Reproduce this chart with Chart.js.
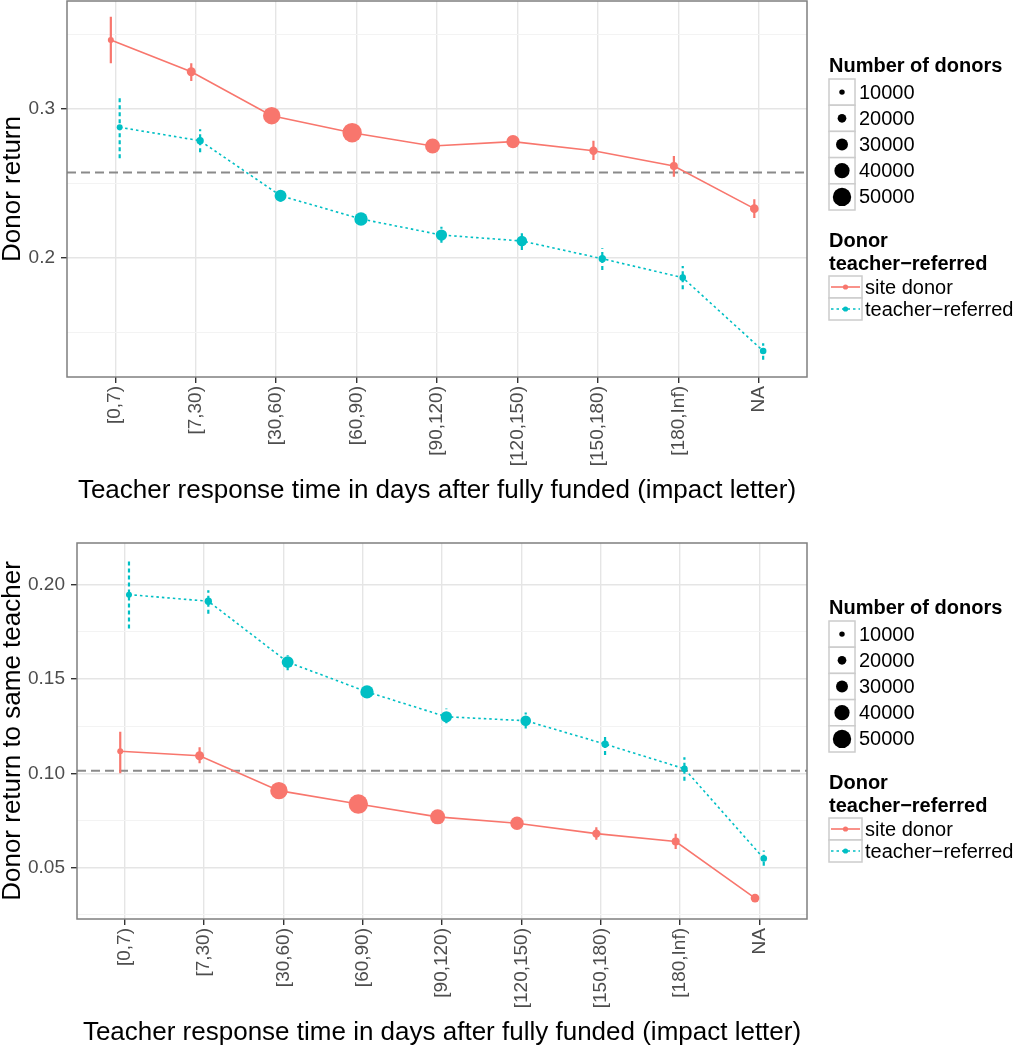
<!DOCTYPE html>
<html>
<head>
<meta charset="utf-8">
<title>Donor return by teacher response time</title>
<script src="https://cdn.jsdelivr.net/npm/chart.js@4.4.1/dist/chart.umd.min.js"></script>
<style>
  html, body { margin: 0; padding: 0; background: #fff; }
  body { width: 1019px; height: 1050px; position: relative; overflow: hidden; }
  .panel { position: absolute; left: 0; }
  .panel canvas { display: block; }
  #topPanel { top: 0; }
  #bottomPanel { top: 530px; }
</style>
</head>
<body>
<div class="panel" id="topPanel"><canvas id="returnChart" width="1019" height="508"></canvas></div>
<div class="panel" id="bottomPanel"><canvas id="sameChart" width="1019" height="520"></canvas></div>
<script>
// categories on the x axis
const categories = ['[0,7)', '[7,30)', '[30,60)', '[60,90)', '[90,120)', '[120,150)', '[150,180)', '[180,Inf)', 'NA'];
const seriesNames = ['site donor', 'teacher\u2212referred'];

// number of donors per group (point size)
const siteDonors = [11700, 21000, 47000, 53000, 39500, 34500, 19000, 18000, 20000];
const teacherDonors = [11700, 16000, 30000, 34500, 28000, 26000, 16000, 13600, 13600];
const sizeBreaks = [10000, 20000, 30000, 40000, 50000];

// panel 1: donor return
const returnSite = [0.3463, 0.3250, 0.2955, 0.2841, 0.2752, 0.2781, 0.2720, 0.2617, 0.2331];
const returnSiteLo = [0.3307, 0.3188, 0.2920, 0.2805, 0.2720, 0.2750, 0.2658, 0.2546, 0.2268];
const returnSiteHi = [0.3620, 0.3307, 0.2990, 0.2877, 0.2785, 0.2812, 0.2787, 0.2685, 0.2394];
const returnTeacher = [0.2877, 0.2787, 0.2418, 0.2262, 0.2154, 0.2114, 0.1995, 0.1868, 0.1376];
const returnTeacherLo = [0.2669, 0.2709, 0.2378, 0.2228, 0.2103, 0.2054, 0.1919, 0.1790, 0.1316];
const returnTeacherHi = [0.3083, 0.2864, 0.2456, 0.2296, 0.2210, 0.2166, 0.2065, 0.1946, 0.1428];
const returnOverall = 0.2573;
const returnTicks = [0.2, 0.3];
const returnTickLabels = ['0.2', '0.3'];
const returnMinor = [0.15, 0.25, 0.35];

// panel 2: donor return to same teacher
const sameSite = [0.1117, 0.1093, 0.0908, 0.0837, 0.0769, 0.0735, 0.0680, 0.0638, 0.0338];
const sameSiteLo = [0.1000, 0.1053, 0.0885, 0.0812, 0.0748, 0.0712, 0.0647, 0.0598, 0.0322];
const sameSiteHi = [0.1220, 0.1138, 0.0931, 0.0862, 0.0790, 0.0758, 0.0714, 0.0679, 0.0354];
const sameTeacher = [0.1948, 0.1913, 0.1590, 0.1432, 0.1300, 0.1279, 0.1155, 0.1024, 0.0548];
const sameTeacherLo = [0.1768, 0.1847, 0.1547, 0.1405, 0.1265, 0.1238, 0.1097, 0.0961, 0.0509];
const sameTeacherHi = [0.2126, 0.1971, 0.1627, 0.1459, 0.1344, 0.1323, 0.1208, 0.1085, 0.0590];
const sameOverall = 0.1014;
const sameTicks = [0.05, 0.10, 0.15, 0.20];
const sameTickLabels = ['0.05', '0.10', '0.15', '0.20'];
const sameMinor = [0.025, 0.075, 0.125, 0.175];

const FONT = '"Liberation Sans", Arial, Helvetica, sans-serif';
const SITE_COLOR = '#F8766D';
const TEACHER_COLOR = '#00BFC4';
const DODGE = 0.055;
const X_MIN = -0.6;
const X_MAX = 8.6;

function radiusFor(n) {
    return 1.1 + n * 0.000162;
}

function pointsOf(values, offset) {
    return values.map((v, i) => ({ x: i + offset, y: v }));
}

// vertical segments separated by gaps
function errorBarsOf(lo, hi, offset) {
    const pts = [];
    lo.forEach((v, i) => {
        pts.push({ x: i + offset, y: v });
        pts.push({ x: i + offset, y: hi[i] });
        pts.push({ x: i + offset, y: null });
    });
    return pts;
}

const isMinor = c => c.tick && c.tick.minor;

// panel border on top of the data
const borderPlugin = {
    id: 'panelBorder',
    afterDatasetsDraw(chart) {
        const a = chart.chartArea;
        const ctx = chart.ctx;
        ctx.save();
        ctx.strokeStyle = '#7f7f7f';
        ctx.lineWidth = 1.5;
        ctx.strokeRect(a.left, a.top, a.right - a.left, a.bottom - a.top);
        ctx.restore();
    }
};

// ggplot style legend to the right of the panel
const legendPlugin = {
    id: 'ggLegend',
    afterDraw(chart) {
        const ctx = chart.ctx;
        const a = chart.chartArea;
        const cy = (a.top + a.bottom) / 2;
        const x0 = 829;

        ctx.save();
        ctx.textAlign = 'left';
        ctx.textBaseline = 'middle';
        ctx.fillStyle = '#000';
        ctx.font = 'bold 20px ' + FONT;
        ctx.fillText('Number of donors', x0, cy - 123);

        const rowH = 26.2;
        sizeBreaks.forEach((n, i) => {
            const top = cy - 110 + i * rowH;
            ctx.fillStyle = '#fff';
            ctx.fillRect(x0, top, 26, rowH);
            ctx.strokeStyle = '#cccccc';
            ctx.lineWidth = 1.5;
            ctx.strokeRect(x0, top, 26, rowH);
            ctx.beginPath();
            ctx.arc(x0 + 13, top + rowH / 2, radiusFor(n), 0, Math.PI * 2);
            ctx.fillStyle = '#000';
            ctx.fill();
            ctx.font = '20px ' + FONT;
            ctx.fillText(String(n), x0 + 30, top + rowH / 2 + 1);
        });

        ctx.font = 'bold 20px ' + FONT;
        ctx.fillStyle = '#000';
        ctx.fillText('Donor', x0, cy + 52);
        ctx.fillText('teacher\u2212referred', x0, cy + 75);

        const lineH = 22;
        const colors = [SITE_COLOR, TEACHER_COLOR];
        const dashes = [[], [2.5, 3]];
        seriesNames.forEach((name, i) => {
            const top = cy + 87 + i * lineH;
            const mid = top + lineH / 2;
            ctx.fillStyle = '#fff';
            ctx.fillRect(x0, top, 33, lineH);
            ctx.strokeStyle = '#cccccc';
            ctx.lineWidth = 1.5;
            ctx.setLineDash([]);
            ctx.strokeRect(x0, top, 33, lineH);

            ctx.strokeStyle = colors[i];
            ctx.lineWidth = 1.6;
            ctx.setLineDash(dashes[i]);
            ctx.beginPath();
            ctx.moveTo(x0 + 2, mid);
            ctx.lineTo(x0 + 31, mid);
            ctx.stroke();
            ctx.setLineDash([]);
            ctx.beginPath();
            ctx.arc(x0 + 16.5, mid, 2.6, 0, Math.PI * 2);
            ctx.fillStyle = colors[i];
            ctx.fill();

            ctx.fillStyle = '#000';
            ctx.font = '20px ' + FONT;
            ctx.fillText(name, x0 + 36, mid + 1);
        });
        ctx.restore();
    }
};

function makeChart(canvasId, p) {
    const ctx = document.getElementById(canvasId).getContext('2d');
    return new Chart(ctx, {
        type: 'line',
        data: {
            datasets: [
                {
                    label: seriesNames[0],
                    data: pointsOf(p.site, -DODGE),
                    borderColor: SITE_COLOR,
                    backgroundColor: SITE_COLOR,
                    borderWidth: 1.6,
                    pointRadius: siteDonors.map(radiusFor),
                    pointBackgroundColor: SITE_COLOR,
                    pointBorderWidth: 0,
                    order: 0
                },
                {
                    label: seriesNames[1],
                    data: pointsOf(p.teacher, DODGE),
                    borderColor: TEACHER_COLOR,
                    backgroundColor: TEACHER_COLOR,
                    borderWidth: 1.6,
                    borderDash: [2.5, 3],
                    pointRadius: teacherDonors.map(radiusFor),
                    pointBackgroundColor: TEACHER_COLOR,
                    pointBorderWidth: 0,
                    order: 0
                },
                {
                    label: 'site error',
                    data: errorBarsOf(p.siteLo, p.siteHi, -DODGE),
                    borderColor: SITE_COLOR,
                    borderWidth: 2.2,
                    borderCapStyle: 'butt',
                    pointRadius: 0,
                    spanGaps: false,
                    order: 1
                },
                {
                    label: 'teacher error',
                    data: errorBarsOf(p.teacherLo, p.teacherHi, DODGE),
                    borderColor: TEACHER_COLOR,
                    borderWidth: 2.2,
                    borderDash: [4, 3],
                    borderCapStyle: 'butt',
                    pointRadius: 0,
                    spanGaps: false,
                    order: 1
                },
                {
                    label: 'overall',
                    data: [{ x: X_MIN, y: p.overall }, { x: X_MAX, y: p.overall }],
                    borderColor: '#8a8a8a',
                    borderWidth: 2,
                    borderDash: [9, 5],
                    pointRadius: 0,
                    order: 2
                }
            ]
        },
        options: {
            responsive: false,
            animation: false,
            events: [],
            devicePixelRatio: 1,
            layout: {
                autoPadding: false,
                padding: { top: p.padTop, right: 212, left: 0, bottom: 0 }
            },
            plugins: {
                legend: { display: false },
                tooltip: { enabled: false }
            },
            scales: {
                x: {
                    type: 'linear',
                    min: X_MIN,
                    max: X_MAX,
                    border: { display: false },
                    grid: { color: '#e5e5e5', lineWidth: 1.4, tickColor: '#333', tickLength: 6, tickWidth: 1.4 },
                    ticks: {
                        autoSkip: false,
                        minRotation: 90,
                        maxRotation: 90,
                        padding: 3,
                        color: '#4d4d4d',
                        font: { family: FONT, size: 19 },
                        callback: v => categories[v] !== undefined ? categories[v] : ''
                    },
                    afterBuildTicks: scale => {
                        scale.ticks = categories.map((c, i) => ({ value: i }));
                    },
                    afterFit: scale => {
                        scale.height = 131;
                        scale.paddingLeft = 0;
                        scale.paddingRight = 0;
                    },
                    title: {
                        display: true,
                        text: 'Teacher response time in days after fully funded (impact letter)',
                        color: '#000',
                        font: { family: FONT, size: 26, lineHeight: 1 },
                        padding: { top: 0, bottom: 4 }
                    }
                },
                y: {
                    type: 'linear',
                    min: p.yMin,
                    max: p.yMax,
                    border: { display: false },
                    grid: {
                        color: c => isMinor(c) ? '#f3f3f3' : '#e5e5e5',
                        lineWidth: c => isMinor(c) ? 1 : 1.4,
                        tickColor: c => isMinor(c) ? 'rgba(0,0,0,0)' : '#333',
                        tickLength: 6,
                        tickWidth: 1.4
                    },
                    ticks: {
                        autoSkip: false,
                        padding: 6,
                        color: '#4d4d4d',
                        font: { family: FONT, size: 19 },
                        callback: v => {
                            const k = p.ticks.indexOf(v);
                            return k >= 0 ? p.tickLabels[k] : '';
                        }
                    },
                    afterBuildTicks: scale => {
                        const major = p.ticks.map(v => ({ value: v }));
                        const minor = p.minor.map(v => ({ value: v, minor: true }));
                        scale.ticks = major.concat(minor).sort((a, b) => a.value - b.value);
                    },
                    afterFit: scale => {
                        scale.width = p.yWidth;
                        scale.paddingTop = 0;
                        scale.paddingBottom = 0;
                    },
                    title: {
                        display: true,
                        text: p.yTitle,
                        color: '#000',
                        font: { family: FONT, size: 26, lineHeight: 1 },
                        padding: { top: 0, bottom: 0 }
                    }
                }
            }
        },
        plugins: [borderPlugin, legendPlugin]
    });
}

document.addEventListener('DOMContentLoaded', function() {
    makeChart('returnChart', {
        site: returnSite, siteLo: returnSiteLo, siteHi: returnSiteHi,
        teacher: returnTeacher, teacherLo: returnTeacherLo, teacherHi: returnTeacherHi,
        overall: returnOverall,
        ticks: returnTicks, tickLabels: returnTickLabels, minor: returnMinor,
        yMin: 0.1201, yMax: 0.3725,
        yTitle: 'Donor return',
        yWidth: 67,
        padTop: 1
    });

    makeChart('sameChart', {
        site: sameSite, siteLo: sameSiteLo, siteHi: sameSiteHi,
        teacher: sameTeacher, teacherLo: sameTeacherLo, teacherHi: sameTeacherHi,
        overall: sameOverall,
        ticks: sameTicks, tickLabels: sameTickLabels, minor: sameMinor,
        yMin: 0.0227, yMax: 0.2222,
        yTitle: 'Donor return to same teacher',
        yWidth: 77,
        padTop: 13
    });
});
</script>
</body>
</html>
